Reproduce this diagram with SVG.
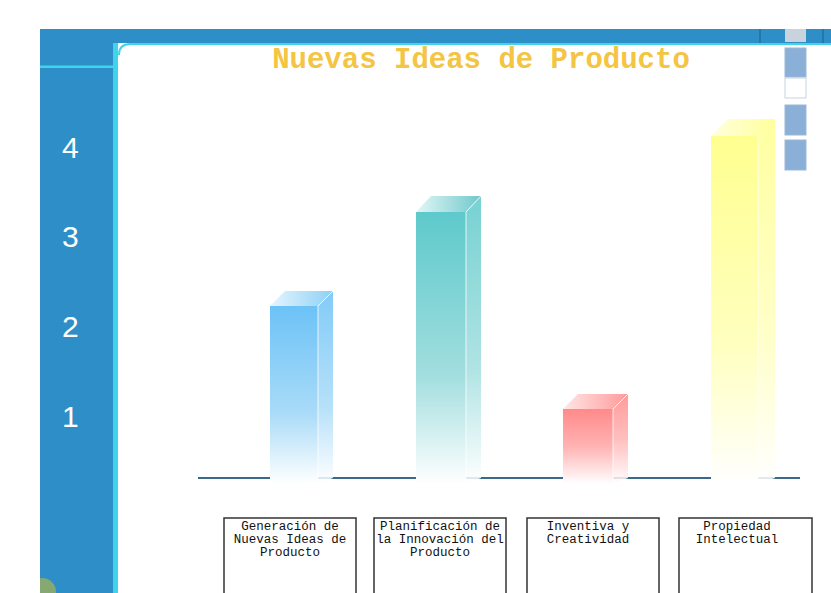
<svg xmlns="http://www.w3.org/2000/svg" width="831" height="593" viewBox="0 0 831 593">
<style>
.axis{font-family:"Liberation Sans","DejaVu Sans",sans-serif;font-size:30px;fill:#ffffff}
.title{font-family:"Liberation Mono","DejaVu Sans Mono",monospace;font-size:29px;font-weight:bold;fill:#F4C443}
.lbl{font-family:"Liberation Mono","DejaVu Sans Mono",monospace;font-size:12.5px;fill:#111;text-anchor:middle}
.box{fill:#ffffff;stroke:#333;stroke-width:1.5}
.side{opacity:0.85}
.edge{fill:none;stroke:#ffffff;stroke-width:1;opacity:0.8}
.sb{fill:#8AB0D8;stroke:#9DB8D6;stroke-width:1}
</style>
<defs>
<linearGradient id="gBlue" x1="0" y1="0" x2="0" y2="1"><stop offset="0" stop-color="#6CC2F6"/><stop offset="0.6" stop-color="#A9DBF8"/><stop offset="1" stop-color="#ffffff"/></linearGradient>
<linearGradient id="gTeal" x1="0" y1="0" x2="0" y2="1"><stop offset="0" stop-color="#5EC9CB"/><stop offset="0.6" stop-color="#A2DEDF"/><stop offset="1" stop-color="#ffffff"/></linearGradient>
<linearGradient id="gRed" x1="0" y1="0" x2="0" y2="1"><stop offset="0" stop-color="#FF8A8A"/><stop offset="0.5" stop-color="#FFB3B3"/><stop offset="1" stop-color="#ffffff"/></linearGradient>
<linearGradient id="gYel" x1="0" y1="0" x2="0" y2="1"><stop offset="0" stop-color="#FFFF90"/><stop offset="0.6" stop-color="#FFFFC0"/><stop offset="1" stop-color="#ffffff"/></linearGradient>
<linearGradient id="gTopBlue" x1="0" y1="0" x2="1" y2="0"><stop offset="0" stop-color="#E6F5FE"/><stop offset="1" stop-color="#8DD0F6"/></linearGradient>
<linearGradient id="gTopTeal" x1="0" y1="0" x2="1" y2="0"><stop offset="0" stop-color="#E3F6F6"/><stop offset="1" stop-color="#6FC9CB"/></linearGradient>
<linearGradient id="gTopRed" x1="0" y1="0" x2="1" y2="0"><stop offset="0" stop-color="#FFE6E6"/><stop offset="1" stop-color="#FF9A9A"/></linearGradient>
<linearGradient id="gTopYel" x1="0" y1="0" x2="1" y2="0"><stop offset="0" stop-color="#FFFFE0"/><stop offset="1" stop-color="#FFFF9A"/></linearGradient>
<clipPath id="panelClip"><rect x="40" y="29" width="73" height="564"/></clipPath>
</defs>
<rect x="0" y="0" width="831" height="593" fill="#ffffff"/>
<g id="frame">
<rect x="40" y="29" width="791" height="14" fill="#2E8FC8"/>
<rect x="40" y="29" width="76" height="564" fill="#2E8FC8"/>
<rect x="113" y="43" width="5" height="550" fill="#3FD4EA"/>
<path d="M118 55 Q118 43 130 43 L831 43 L831 45 L130 45 Q120 45 120 55 Z" fill="#3FD4EA"/>
<rect x="40" y="65.5" width="73" height="2.5" fill="#3FD4EA"/>
<line x1="760" y1="29" x2="760" y2="43" stroke="#1E5F86" stroke-width="1"/>
<line x1="823" y1="29" x2="823" y2="43" stroke="#1E5F86" stroke-width="1"/>
<circle cx="42" cy="592" r="14" fill="#9BAF5A" opacity="0.8" clip-path="url(#panelClip)"/>
</g>
<g id="axis-labels">
<text class="axis" x="62" y="158">4</text>
<text class="axis" x="62" y="247">3</text>
<text class="axis" x="62" y="337">2</text>
<text class="axis" x="62" y="427">1</text>
</g>
<g id="title"><text class="title" x="481" y="68" text-anchor="middle">Nuevas Ideas de Producto</text></g>
<g id="scrollbar">
<rect x="785" y="29" width="21" height="13" fill="#C9D3DD"/>
<rect class="sb" x="785" y="48" width="21" height="29"/>
<rect x="785" y="78" width="21" height="20" fill="#ffffff" stroke="#C9D3DD" stroke-width="1"/>
<rect class="sb" x="785" y="105" width="21" height="30"/>
<rect class="sb" x="785" y="140" width="21" height="30"/>
</g>
<g id="connectors">
<line x1="198" y1="478" x2="800" y2="478" stroke="#3A6A8A" stroke-width="2"/>
</g>
<g id="bar-1">
<polygon points="270,306 285,291 333,291 318,306" fill="url(#gTopBlue)"/>
<polygon class="side" points="318,306 333,291 333,478 318,484" fill="url(#gBlue)"/>
<rect x="270" y="306" width="48" height="178" fill="url(#gBlue)"/>
<polyline class="edge" points="318,306 318,484"/>
<polyline class="edge" points="318,306 333,291"/>
</g>
<g id="bar-2">
<polygon points="416,212 431,196 481,196 466,212" fill="url(#gTopTeal)"/>
<polygon class="side" points="466,212 481,196 481,478 466,484" fill="url(#gTeal)"/>
<rect x="416" y="212" width="50" height="272" fill="url(#gTeal)"/>
<polyline class="edge" points="466,212 466,484"/>
<polyline class="edge" points="466,212 481,196"/>
</g>
<g id="bar-3">
<polygon points="563,409 578,394 628,394 613,409" fill="url(#gTopRed)"/>
<polygon class="side" points="613,409 628,394 628,478 613,484" fill="url(#gRed)"/>
<rect x="563" y="409" width="50" height="75" fill="url(#gRed)"/>
<polyline class="edge" points="613,409 613,484"/>
<polyline class="edge" points="613,409 628,394"/>
</g>
<g id="bar-4">
<polygon points="711,136 728,119 775,119 758,136" fill="url(#gTopYel)"/>
<polygon class="side" points="758,136 775,119 775,478 758,484" fill="url(#gYel)"/>
<rect x="711" y="136" width="47" height="348" fill="url(#gYel)"/>
<polyline class="edge" points="758,136 758,484"/>
</g>
<g id="label-1">
<rect class="box" x="224" y="518" width="132" height="80"/>
<text class="lbl" x="290" y="530">Generación de</text>
<text class="lbl" x="290" y="543">Nuevas Ideas de</text>
<text class="lbl" x="290" y="556">Producto</text>
</g>
<g id="label-2">
<rect class="box" x="374" y="518" width="132" height="80"/>
<text class="lbl" x="440" y="530">Planificación de</text>
<text class="lbl" x="440" y="543">la Innovación del</text>
<text class="lbl" x="440" y="556">Producto</text>
</g>
<g id="label-3">
<rect class="box" x="527" y="518" width="132" height="80"/>
<text class="lbl" x="588" y="530">Inventiva y</text>
<text class="lbl" x="588" y="543">Creatividad</text>
</g>
<g id="label-4">
<rect class="box" x="679" y="518" width="133" height="80"/>
<text class="lbl" x="737" y="530">Propiedad</text>
<text class="lbl" x="737" y="543">Intelectual</text>
</g>
</svg>
